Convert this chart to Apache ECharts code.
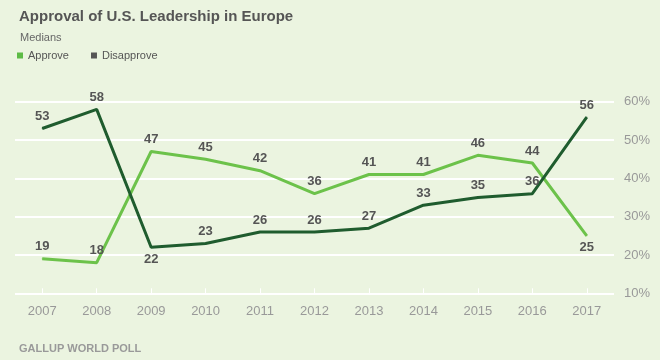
<!DOCTYPE html>
<html>
<head>
<meta charset="utf-8">
<script src="https://cdn.jsdelivr.net/npm/echarts@6/dist/echarts.min.js"></script>
<style>
html,body{margin:0;padding:0;background:#EBF4E0;}
#c{width:660px;height:360px;}
</style>
</head>
<body>
<div id="c"></div>
<script>
var years = ['2007','2008','2009','2010','2011','2012','2013','2014','2015','2016','2017'];
var approve = [19,18,47,45,42,36,41,41,46,44,25];
var disapprove = [53,58,22,23,26,26,27,33,35,36,56];
var approveLabelPos = ['top','top','top','top','top','top','top','top','top','top','bottom'];
var disapproveLabelPos = ['top','top','bottom','top','top','top','top','top','top','top','top'];

var labelStyle = {show:true, color:'#555', fontSize:13, fontWeight:'bold', fontFamily:'Liberation Sans, Arial, sans-serif', distance:5};

function mk(vals, pos){
  return vals.map(function(v,i){ return {value:v, label:{position:pos[i]}}; });
}

var chart = echarts.init(document.getElementById('c'), null, {renderer:'canvas'});
chart.setOption({
  backgroundColor:'#EBF4E0',
  animation:false,
  textStyle:{fontFamily:'Liberation Sans, Arial, sans-serif'},
  title:[
    {text:'Approval of U.S. Leadership in Europe', left:14, top:4,
     textStyle:{fontSize:15, fontWeight:'bold', color:'#555'}},
    {text:'Medians', left:15, top:27, textStyle:{fontSize:11, fontWeight:'normal', color:'#666'}},
    {text:'GALLUP WORLD POLL', left:14, top:338, textStyle:{fontSize:11, fontWeight:'bold', color:'#999'}}
  ],
  legend:{
    left:12, top:45, icon:'rect', itemWidth:6, itemHeight:6, itemGap:22,
    textStyle:{fontSize:11, color:'#555'},
    data:[
      {name:'Approve', itemStyle:{color:'#5DBB46'}},
      {name:'Disapprove', itemStyle:{color:'#555555'}}
    ]
  },
  grid:{left:15, right:46, top:101.7, bottom:66.7},
  xAxis:{
    type:'category', data:years, boundaryGap:true,
    axisLine:{show:false},
    axisTick:{show:true, alignWithLabel:true, inside:true, length:5, lineStyle:{color:'#fff', width:1}},
    axisLabel:{color:'#999', fontSize:13, margin:12}
  },
  yAxis:{
    type:'value', position:'right', min:10, max:60, interval:10,
    axisLine:{show:false}, axisTick:{show:false},
    axisLabel:{color:'#999', fontSize:13, margin:10, formatter:'{value}%'},
    splitLine:{lineStyle:{color:'#fff', width:2}}
  },
  series:[
    {name:'Approve', type:'line', data:mk(approve, approveLabelPos), symbol:'circle', symbolSize:1, showSymbol:true,
     lineStyle:{color:'#6CC24A', width:3}, itemStyle:{color:'#6CC24A'}, label:labelStyle, z:3},
    {name:'Disapprove', type:'line', data:mk(disapprove, disapproveLabelPos), symbol:'circle', symbolSize:1, showSymbol:true,
     lineStyle:{color:'#1F5C2E', width:3}, itemStyle:{color:'#1F5C2E'}, label:labelStyle, z:4}
  ]
});
</script>
</body>
</html>
